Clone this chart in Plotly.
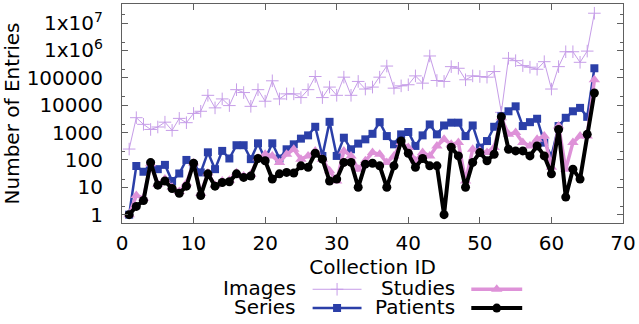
import math
import plotly.graph_objects as go

collection_id = list(range(1, 67))

images = [250, 3500, 2000, 1300, 1600, 2400, 1200, 3300, 2300, 5000,
          6000, 23000, 8000, 17000, 9700, 37000, 29000, 9100, 37000, 14000,
          78000, 17000, 26000, 26000, 19000, 37000, 112000, 19000, 46000, 23000,
          106000, 23000, 74000, 39000, 46000, 106000, 270000, 42000, 51000, 56000,
          118000, 64000, 630000, 80000, 74000, 257000, 224000, 85000, 118000, 112000,
          106000, 170000, 5500, 520000, 425000, 280000, 245000, 206000, 390000, 39000,
          257000, 900000, 900000, 370000, 950000, 23000000]

series = [1, 60, 37, 70, 46, 66, 17, 32, 100, 66,
          35, 190, 46, 214, 113, 345, 345, 107, 405, 107,
          405, 113, 245, 372, 600, 790, 1630, 140, 2470, 140,
          650, 245, 395, 566, 900, 2400, 745, 372, 860, 1050,
          325, 790, 1980, 860, 1820, 2300, 2300, 745, 1820, 282,
          490, 1630, 3950, 6000, 9100, 1730, 2400, 3200, 430, 140,
          1730, 3470, 6000, 8000, 3760, 224000]

studies = [1, 5, 4, 72, 13, 20, 10, 7, 14, 78,
           6, 33, 12, 17, 18, 34, 26, 30, 118, 162,
           140, 81, 162, 245, 107, 140, 214, 107, 40, 17,
           214, 140, 46, 93, 186, 162, 81, 140, 430, 282,
           93, 186, 140, 325, 566, 372, 430, 17, 245, 214,
           186, 282, 3470, 860, 1000, 430, 325, 566, 745, 54,
           1730, 46, 430, 745, 745, 85000]

patients = [1, 2, 3.3, 80, 12, 17, 9, 6, 11, 76,
            5, 31, 11, 15, 16, 31, 23, 26, 113, 93,
            20, 31, 35, 33, 61, 54, 176, 107, 17, 20,
            81, 81, 10, 70, 76, 61, 10, 61, 490, 176,
            54, 113, 61, 61, 1, 290, 140, 10, 81, 186,
            93, 162, 3760, 245, 214, 214, 140, 325, 140, 31,
            1300, 4.4, 46, 20, 860, 28000]

y_tickvals = [1, 10, 100, 1000, 10000, 100000, 1000000, 10000000]
y_ticktext = ["1", "10", "100", "1000", "10000", "100000",
              "1x10<sup>6</sup>", "1x10<sup>7</sup>"]
x_tickvals = [0, 10, 20, 30, 40, 50, 60, 70]

names = ["Images", "Series", "Studies", "Patients"]
colors = ["#c69de8", "#2b3fa8", "#de92d8", "#000000"]
symbols = ["cross-thin", "square", "triangle-up", "circle"]
widths = [1, 2.5, 3.5, 4]
sizes = [9, 8, 10, 9]
data = [images, series, studies, patients]

FONT = "DejaVu Sans"
FS = 20
AX = "#606060"

fig = go.Figure()
for name, vals, col, sym, w, s in zip(names, data, colors, symbols, widths, sizes):
    fig.add_trace(go.Scatter(
        x=collection_id, y=vals, name=name, mode="lines+markers",
        line=dict(color=col, width=w),
        marker=dict(symbol=sym, size=s, color=col,
                    line=dict(color=col, width=1 if sym == "cross-thin" else 0)),
        showlegend=False, xaxis="x", yaxis="y"))

# legend samples on a pixel-scaled helper axis
leg_rows = {"Images": (0, 291), "Studies": (1, 291), "Series": (0, 310), "Patients": (1, 310)}
sample_x = [(313, 362), (472, 523)]
text_right = [298, 458]
for name, col, sym, w, s in zip(names, colors, symbols, widths, sizes):
    c, yy = leg_rows[name]
    x0, x1 = sample_x[c]
    fig.add_trace(go.Scatter(
        x=[x0, x1], y=[yy, yy], mode="lines",
        line=dict(color=col, width=w),
        showlegend=False, xaxis="x2", yaxis="y2", hoverinfo="skip"))
    fig.add_trace(go.Scatter(
        x=[(x0 + x1) / 2], y=[yy], mode="markers",
        marker=dict(symbol=sym, size=s, color=col,
                    line=dict(color=col, width=1 if sym == "cross-thin" else 0)),
        showlegend=False, xaxis="x2", yaxis="y2", hoverinfo="skip"))
    fig.add_annotation(x=text_right[c], y=yy - 1, xref="x2", yref="y2", text=name,
                       showarrow=False, xanchor="right", yanchor="middle",
                       font=dict(family=FONT, size=FS, color="black"))

H = 324
T, B = 3, 5
ph = H - T - B
main_bottom = (H - B - 224) / ph
leg_top = 0.12
fig.update_layout(
    width=639, height=H,
    margin=dict(l=122, r=15, t=T, b=B),
    paper_bgcolor="white", plot_bgcolor="white",
    font=dict(family=FONT, size=FS, color="black"),
    xaxis=dict(domain=[0, 1], anchor="y", range=[0, 70], tickvals=x_tickvals,
               ticks="inside", ticklen=6, tickcolor=AX, showline=True, linecolor=AX,
               linewidth=1, mirror="ticks", showgrid=False, zeroline=False,
               ticklabelstandoff=2,
               tickfont=dict(family=FONT, size=FS),
               title=dict(text="Collection ID", standoff=6,
                          font=dict(family=FONT, size=FS))),
    yaxis=dict(domain=[main_bottom, 1], anchor="x", type="log",
               range=[math.log10(0.5), math.log10(5e7)],
               tickvals=y_tickvals, ticktext=y_ticktext,
               ticks="inside", ticklen=6, tickcolor=AX, showline=True, linecolor=AX,
               linewidth=1, mirror="ticks", showgrid=False, zeroline=False,
               ticklabelstandoff=14,
               minor=dict(tickvals=[2 * v for v in y_tickvals], ticks="inside",
                          ticklen=3, tickcolor=AX),
               tickfont=dict(family=FONT, size=FS),
               title=dict(text="Number of Entries", standoff=6,
                          font=dict(family=FONT, size=FS))),
    xaxis2=dict(domain=[0, 1], anchor="y2", range=[122, 624], visible=False),
    yaxis2=dict(domain=[0, leg_top], anchor="x2",
                range=[H - B, H - B - leg_top * ph], visible=False),
)

fig.write_html("out.html",
               config={"displayModeBar": False},
               post_script="document.body.style.margin='0';document.body.style.padding='0';")
